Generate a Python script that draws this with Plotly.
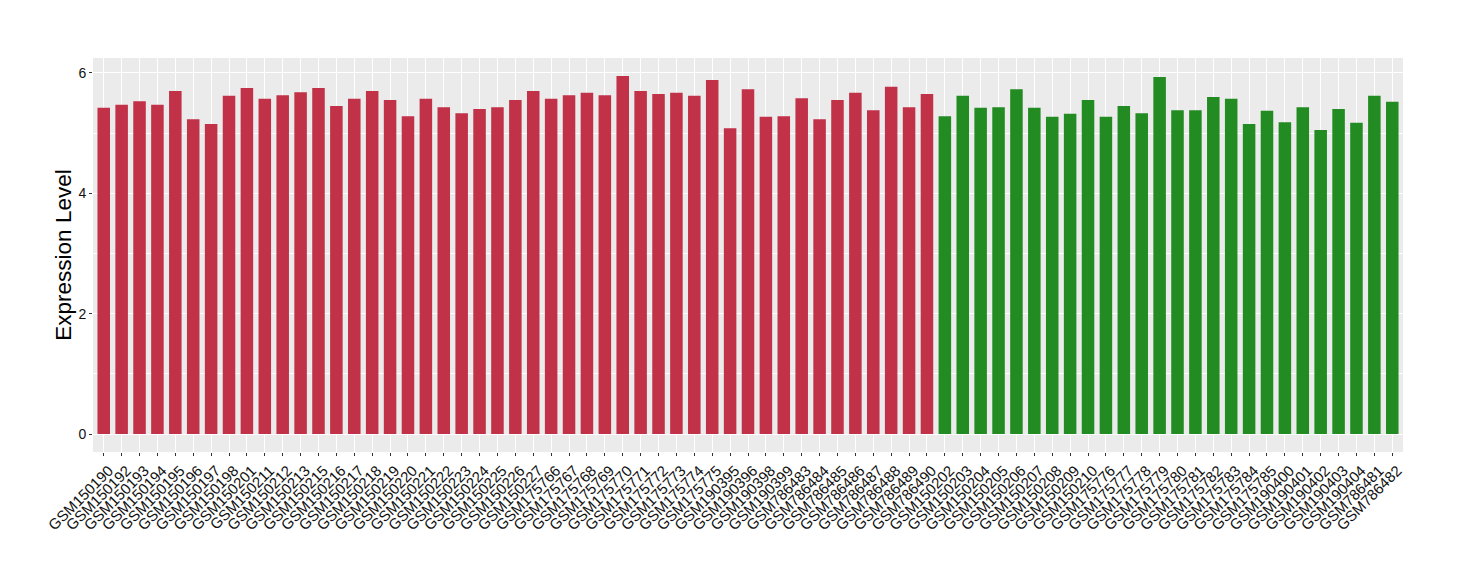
import plotly.graph_objects as go

red_samples = [
    "GSM150190", "GSM150192", "GSM150193", "GSM150194", "GSM150195", "GSM150196",
    "GSM150197", "GSM150198", "GSM150201", "GSM150211", "GSM150212", "GSM150213",
    "GSM150215", "GSM150216", "GSM150217", "GSM150218", "GSM150219", "GSM150220",
    "GSM150221", "GSM150222", "GSM150223", "GSM150224", "GSM150225", "GSM150226",
    "GSM150227", "GSM175766", "GSM175767", "GSM175768", "GSM175769", "GSM175770",
    "GSM175771", "GSM175772", "GSM175773", "GSM175774", "GSM175775", "GSM190395",
    "GSM190396", "GSM190398", "GSM190399", "GSM786483", "GSM786484", "GSM786485",
    "GSM786486", "GSM786487", "GSM786488", "GSM786489", "GSM786490",
]
red_values = [
    5.42, 5.47, 5.53, 5.47, 5.70, 5.23, 5.15, 5.62, 5.75, 5.57, 5.63, 5.68,
    5.75, 5.45, 5.57, 5.70, 5.55, 5.28, 5.57, 5.43, 5.33, 5.40, 5.43, 5.55,
    5.70, 5.57, 5.63, 5.67, 5.63, 5.95, 5.70, 5.65, 5.67, 5.62, 5.88, 5.08,
    5.73, 5.27, 5.28, 5.58, 5.23, 5.55, 5.67, 5.38, 5.77, 5.43, 5.65,
]

green_samples = [
    "GSM150202", "GSM150203", "GSM150204", "GSM150205", "GSM150206", "GSM150207",
    "GSM150208", "GSM150209", "GSM150210", "GSM175776", "GSM175777", "GSM175778",
    "GSM175779", "GSM175780", "GSM175781", "GSM175782", "GSM175783", "GSM175784",
    "GSM175785", "GSM190400", "GSM190401", "GSM190402", "GSM190403", "GSM190404",
    "GSM786481", "GSM786482",
]
green_values = [
    5.28, 5.62, 5.42, 5.43, 5.73, 5.42, 5.27, 5.32, 5.55, 5.27, 5.45, 5.33,
    5.93, 5.38, 5.38, 5.60, 5.57, 5.15, 5.37, 5.18, 5.43, 5.05, 5.40, 5.17,
    5.62, 5.52,
]

y_ticks = [0, 2, 4, 6]

all_samples = red_samples + green_samples

fig = go.Figure()
fig.add_trace(go.Bar(x=red_samples, y=red_values, marker_color="#C13148",
                     marker_line_width=0, width=0.7, showlegend=False))
fig.add_trace(go.Bar(x=green_samples, y=green_values, marker_color="#228B22",
                     marker_line_width=0, width=0.7, showlegend=False))

# page body has an 8px default margin: compensate so the plot lands where the reference has it
fig.update_layout(
    width=1452, height=572,
    margin=dict(l=85, r=57, t=50, b=128, autoexpand=False),
    paper_bgcolor="white",
    plot_bgcolor="#EBEBEB",
    font=dict(family="Liberation Sans, Arial, sans-serif", color="#111111"),
    bargap=0.3,
)
fig.update_xaxes(
    type="category",
    categoryorder="array", categoryarray=all_samples,
    tickmode="array", tickvals=all_samples, ticktext=all_samples,
    range=[-0.6, len(all_samples) - 0.4],
    tickangle=-45,
    tickfont=dict(size=15, color="#111111"),
    ticklabelshift=5,
    showgrid=True, gridcolor="white", gridwidth=1.1,
    ticks="outside", ticklen=3, tickcolor="#333333", tickwidth=1,
    showline=False, zeroline=False, automargin=False,
)
fig.update_yaxes(
    range=[-0.2975, 6.2475],
    tickvals=y_ticks,
    tickfont=dict(size=14, color="#111111"),
    title=dict(text="Expression Level", font=dict(size=22.5, color="black"), standoff=0),
    showgrid=True, gridcolor="white", gridwidth=1.1,
    minor=dict(tickvals=[1, 3, 5], showgrid=True, gridcolor="white", gridwidth=0.5),
    ticks="outside", ticklen=3, tickcolor="#333333", tickwidth=1,
    showline=False, zeroline=False, automargin=False,
)

fig.write_html("out.html")
